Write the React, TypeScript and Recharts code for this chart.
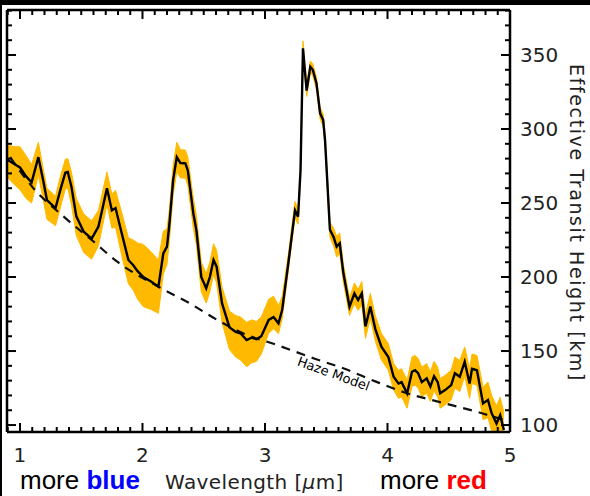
import {
  Area,
  ComposedChart,
  Line,
  XAxis,
  YAxis,
} from "recharts";

// transit spectrum
const wavelength = [
  0.9, 0.96, 1.0, 1.05, 1.095, 1.15, 1.19, 1.22, 1.29, 1.33, 1.37, 1.39, 1.42,
  1.46, 1.52, 1.585, 1.64, 1.67, 1.71, 1.75, 1.78, 1.83, 1.885, 1.925, 1.96,
  2.007, 2.07, 2.13, 2.17, 2.2, 2.22, 2.25, 2.28, 2.31, 2.35, 2.37, 2.415,
  2.44, 2.48, 2.52, 2.55, 2.58, 2.605, 2.65, 2.71, 2.76, 2.8, 2.85, 2.89, 2.93,
  2.97, 3.03, 3.07, 3.11, 3.14, 3.19, 3.245, 3.27, 3.29, 3.31, 3.34, 3.37,
  3.39, 3.42, 3.45, 3.475, 3.49, 3.53, 3.56, 3.585, 3.61, 3.64, 3.69, 3.73,
  3.76, 3.79, 3.82, 3.86, 3.9, 3.95, 4.007, 4.05, 4.09, 4.115, 4.16, 4.2,
  4.225, 4.25, 4.28, 4.32, 4.35, 4.38, 4.41, 4.43, 4.47, 4.52, 4.55, 4.59,
  4.63, 4.67, 4.69, 4.73, 4.78, 4.82, 4.85, 4.89, 4.92, 4.95,
];

const transitHeight = [
  279, 276, 274, 268, 264, 281, 265, 252, 246.6, 259, 270.5, 271, 261, 241,
  230.6, 226, 234, 245, 260, 245, 246.6, 229.7, 211.5, 208, 204, 200, 197,
  193.5, 216, 220.5, 236, 265.5, 281, 277, 276.8, 272, 243, 231.7, 200, 192.4,
  200, 211.5, 207, 182, 166, 163, 162, 157.4, 159, 158, 160, 171, 173, 168.7,
  177.7, 209, 245, 240.7, 272, 354.5, 326, 342, 340, 331, 310.6, 306, 292.6,
  232, 227, 220.5, 222.8, 202.5, 180, 189, 184.5, 189, 166.6, 180, 165, 153,
  146, 132.6, 128, 129, 121.4, 136, 137, 135, 129, 131.5, 126, 133, 129,
  121.4, 123.6, 127, 135, 132.6, 142.8, 128, 138, 137, 114.6, 117, 108, 101,
  106.7, 96.6,
];

const errLow = [
  12, 14, 15, 15, 14, 12, 13, 13, 12, 12, 11, 11, 12, 13, 14, 14, 13, 12, 11,
  12, 13, 15, 16, 17, 19, 20, 19, 18, 14, 12, 11, 10, 10, 10, 10, 10, 10, 10,
  10, 10, 10, 10, 11, 13, 15, 17, 18, 18, 17, 15, 12, 9, 8, 7, 6, 5, 5, 5, 4,
  4, 4, 4, 4, 4, 4, 4, 4, 5, 6, 7, 7, 6, 6, 7, 7, 8, 8, 8, 8, 9, 9, 9, 10, 10,
  10, 10, 10, 10, 10, 10, 10, 10, 10, 10, 10, 10, 10, 10, 10, 10, 10, 10, 11,
  12, 12, 12, 12, 12,
];

const errHigh = [
  10, 12, 14, 14, 12, 10, 8, 8, 8, 9, 9, 9, 10, 12, 12, 12, 11, 11, 11, 11, 12,
  14, 15, 17, 19, 22, 20, 18, 15, 12, 10, 10, 10, 9, 9, 9, 10, 10, 10, 10, 10,
  11, 11, 11, 11, 11, 11, 12, 12, 12, 13, 14, 14, 12, 9, 6, 6, 5, 4, 5, 4, 4,
  4, 4, 4, 4, 4, 5, 6, 7, 7, 6, 6, 7, 7, 8, 8, 9, 9, 9, 9, 9, 9, 9, 9, 10, 10,
  10, 10, 10, 10, 10, 10, 10, 10, 10, 11, 11, 10, 10, 10, 10, 11, 12, 12, 12,
  12, 12,
];

// haze-only model (dashed)
const hazeWavelength = [
  0.92, 1.12, 1.34, 1.585, 1.8, 2.14, 2.39, 2.61, 2.82, 3.1, 3.4, 3.65, 3.9,
  4.14, 4.45, 4.77, 5.0,
];
const hazeHeight = [
  281, 259, 242, 225, 210, 193, 182, 171, 162, 154, 145, 138, 129.5, 122,
  115, 108, 102,
];

const xMajor = [1, 2, 3, 4, 5];
const yMajor = [100, 150, 200, 250, 300, 350];
const xTicks = Array.from({ length: 42 }, (_, i) => (9 + i) / 10);
const yTicks = Array.from({ length: 29 }, (_, i) => 100 + i * 10);

const rows = [
  ...wavelength.map((w, i) => ({
    w,
    height: transitHeight[i],
    band: [transitHeight[i] - errLow[i], transitHeight[i] + errHigh[i]],
  })),
  ...hazeWavelength.map((w, i) => ({ w, haze: hazeHeight[i] })),
].sort((a, b) => a.w - b.w);

const TICK_FONT = "'DejaVu Sans', sans-serif";
const isMajor = (v: number, majors: number[]) =>
  majors.some((m) => Math.abs(m - v) < 1e-6);

function BottomTick({ x, y, payload }: any) {
  const major = isMajor(payload.value, xMajor);
  return (
    <g>
      <line x1={x} x2={x} y1={y} y2={y - (major ? 9 : 5)} stroke="#000" strokeWidth={2} />
      {major && (
        <text x={x} y={y + 30} textAnchor="middle" fontSize={20} fontFamily={TICK_FONT} fill="#222">
          {payload.value}
        </text>
      )}
    </g>
  );
}

function TopTick({ x, y, payload }: any) {
  const major = isMajor(payload.value, xMajor);
  return <line x1={x} x2={x} y1={y} y2={y + (major ? 9 : 5)} stroke="#000" strokeWidth={2} />;
}

function RightTick({ x, y, payload }: any) {
  const major = isMajor(payload.value, yMajor);
  return (
    <g>
      <line x1={x} x2={x - (major ? 9 : 5)} y1={y} y2={y} stroke="#000" strokeWidth={2} />
      {major && (
        <text x={x + 10} y={y + 7} textAnchor="start" fontSize={20} fontFamily={TICK_FONT} fill="#222">
          {payload.value}
        </text>
      )}
    </g>
  );
}

function LeftTick({ x, y, payload }: any) {
  const major = isMajor(payload.value, yMajor);
  return <line x1={x} x2={x + (major ? 9 : 5)} y1={y} y2={y} stroke="#000" strokeWidth={2} />;
}

const axisLine = { stroke: "#000", strokeWidth: 2.5 };
const xDomain = [0.894, 5];
const yDomain = [95.3, 380.4];

export default function App() {
  return (
    <div
      style={{
        position: "absolute",
        left: 0,
        top: 0,
        width: 590,
        height: 496,
        background: "#fff",
        overflow: "hidden",
      }}
    >
      <ComposedChart
        width={590}
        height={496}
        data={rows}
        margin={{ top: 9, right: 79, bottom: 63, left: 6 }}
      >
        <XAxis
          xAxisId="bottom"
          dataKey="w"
          type="number"
          domain={xDomain}
          allowDataOverflow
          ticks={xTicks}
          interval={0}
          height={1}
          tickSize={0}
          tickMargin={0}
          tickLine={false}
          axisLine={axisLine}
          tick={BottomTick}
        />
        <XAxis
          xAxisId="top"
          orientation="top"
          dataKey="w"
          type="number"
          domain={xDomain}
          allowDataOverflow
          ticks={xTicks}
          interval={0}
          height={1}
          tickSize={0}
          tickMargin={0}
          tickLine={false}
          axisLine={axisLine}
          tick={TopTick}
        />
        <YAxis
          yAxisId="right"
          orientation="right"
          type="number"
          domain={yDomain}
          allowDataOverflow
          ticks={yTicks}
          interval={0}
          width={1}
          tickSize={0}
          tickMargin={0}
          tickLine={false}
          axisLine={axisLine}
          tick={RightTick}
        />
        <YAxis
          yAxisId="left"
          orientation="left"
          type="number"
          domain={yDomain}
          allowDataOverflow
          ticks={yTicks}
          interval={0}
          width={1}
          tickSize={0}
          tickMargin={0}
          tickLine={false}
          axisLine={axisLine}
          tick={LeftTick}
        />
        <Area
          xAxisId="bottom"
          yAxisId="right"
          dataKey="band"
          type="linear"
          fill="#FFBA00"
          fillOpacity={1}
          stroke="#FFBA00"
          strokeWidth={1}
          connectNulls
          isAnimationActive={false}
        />
        <Line
          xAxisId="top"
          yAxisId="left"
          dataKey="haze"
          type="monotone"
          stroke="#111"
          strokeWidth={2.2}
          strokeDasharray="9 7"
          dot={false}
          connectNulls
          isAnimationActive={false}
        />
        <Line
          xAxisId="bottom"
          yAxisId="right"
          dataKey="height"
          type="linear"
          stroke="#000"
          strokeWidth={2.4}
          dot={false}
          connectNulls
          isAnimationActive={false}
        />
      </ComposedChart>

      <svg
        width={590}
        height={496}
        style={{ position: "absolute", left: 0, top: 0, pointerEvents: "none" }}
      >
        <rect x={0} y={0} width={590} height={5} fill="#000" />
        <rect x={0} y={0} width={2} height={496} fill="#000" />
        <text
          x={332}
          y={378}
          fontSize={13}
          fontFamily={TICK_FONT}
          fill="#000"
          textAnchor="middle"
          transform="rotate(20 332 378)"
        >
          Haze Model
        </text>
        <text
          x={577}
          y={223}
          fontSize={19}
          letterSpacing={1.6}
          fontFamily={TICK_FONT}
          fill="#222"
          textAnchor="middle"
          dominantBaseline="central"
          transform="rotate(90 577 223)"
        >
          Effective Transit Height [km]
        </text>
        <text x={20} y={489} fontSize={26} fontFamily="'Liberation Sans', Arial, sans-serif" fill="#000">
          more <tspan fill="#0000FF" fontWeight="bold">blue</tspan>
        </text>
        <text x={165} y={489} fontSize={20} letterSpacing={0.4} fontFamily={TICK_FONT} fill="#222">
          Wavelength [<tspan fontStyle="italic">μ</tspan>m]
        </text>
        <text x={380} y={489} fontSize={26} fontFamily="'Liberation Sans', Arial, sans-serif" fill="#000">
          more <tspan fill="#FF0000" fontWeight="bold">red</tspan>
        </text>
      </svg>
    </div>
  );
}
